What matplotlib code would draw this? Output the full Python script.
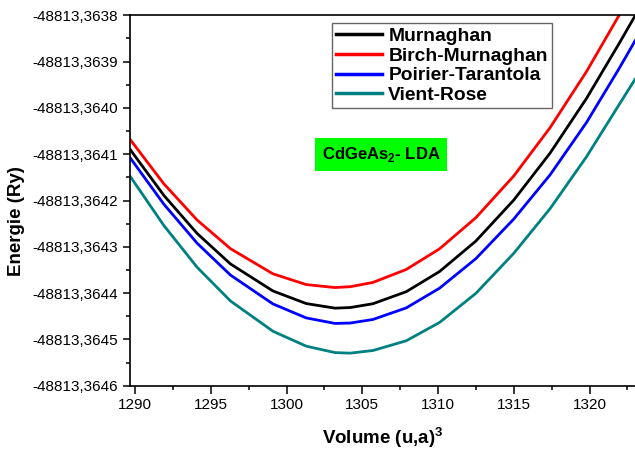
import matplotlib
matplotlib.use("Agg")
import matplotlib.pyplot as plt
from matplotlib.ticker import FixedLocator, FuncFormatter, MultipleLocator

plt.rcParams['font.family'] = ['Liberation Sans', 'DejaVu Sans']
plt.rcParams['mathtext.fontset'] = 'custom'
plt.rcParams['mathtext.rm'] = 'Liberation Sans'
plt.rcParams['mathtext.bf'] = 'Liberation Sans:bold'

# ---- data ----
series_names = ["Murnaghan", "Birch-Murnaghan", "Poirier-Tarantola", "Vient-Rose"]

volume = [1289.7, 1291.9, 1294.1, 1296.3, 1299.1, 1301.3, 1303.2, 1304.2, 1305.7,
          1307.9, 1310.1, 1312.5, 1315.0, 1317.4, 1319.8, 1321.95, 1323.0]

e_murnaghan = [-48813.3640907, -48813.3641888, -48813.3642712, -48813.3643370, -48813.3643953,
               -48813.3644226, -48813.3644325, -48813.3644312, -48813.3644230, -48813.3643970,
               -48813.3643534, -48813.3642875, -48813.3641990, -48813.3640974, -48813.3639795,
               -48813.3638610, -48813.3638013]

e_birch = [-48813.3640691, -48813.3641638, -48813.3642422, -48813.3643040, -48813.3643583,
           -48813.3643816, -48813.3643880, -48813.3643862, -48813.3643770, -48813.3643490,
           -48813.3643044, -48813.3642370, -48813.3641470, -48813.3640424, -48813.3639215,
           -48813.3638000, -48813.3637400]

e_poirier = [-48813.3641087, -48813.3642078, -48813.3642922, -48813.3643610, -48813.3644233,
             -48813.3644536, -48813.3644655, -48813.3644647, -48813.3644570, -48813.3644320,
             -48813.3643894, -48813.3643255, -48813.3642400, -48813.3641444, -48813.3640315,
             -48813.3639150, -48813.3638553]

e_vinet = [-48813.3641487, -48813.3642538, -48813.3643442, -48813.3644170, -48813.3644823,
           -48813.3645146, -48813.3645285, -48813.3645297, -48813.3645240, -48813.3645030,
           -48813.3644634, -48813.3644005, -48813.3643140, -48813.3642174, -48813.3641055,
           -48813.3639930, -48813.3639383]

y_tick_values = [-48813.3646, -48813.3645, -48813.3644, -48813.3643, -48813.3642,
                 -48813.3641, -48813.3640, -48813.3639, -48813.3638]
x_tick_values = [1290, 1295, 1300, 1305, 1310, 1315, 1320]

colors = ["#000000", "#ff0000", "#0000ff", "#008080"]

fig = plt.figure(figsize=(6.35, 4.55), dpi=100)
ax = fig.add_axes([130/635, 1-385.7/455, 1-130/635, (385.7-15.3)/455])

for e, c, n in zip([e_murnaghan, e_birch, e_poirier, e_vinet], colors, series_names):
    ax.plot(volume, e, color=c, lw=2.0, label=n, solid_joinstyle='round')

ax.set_xlim(1289.67, 1323.0)
ax.set_ylim(y_tick_values[0], y_tick_values[-1])

ax.xaxis.set_major_locator(FixedLocator(x_tick_values))
ax.xaxis.set_minor_locator(MultipleLocator(2.5))
ax.yaxis.set_major_locator(FixedLocator(y_tick_values))
ax.yaxis.set_minor_locator(FixedLocator([t + 0.00005 for t in y_tick_values[:-1]]))
ax.yaxis.set_major_formatter(FuncFormatter(lambda v, p: f"{v:.4f}".replace('.', ',')))

ax.tick_params(which='major', direction='out', length=5.4, width=1.1, labelsize=11, colors='black')
ax.tick_params(which='minor', direction='out', length=2.9, width=1.1)
ax.tick_params(top=False, right=False, which='both')

for s in ['left', 'bottom', 'top']:
    ax.spines[s].set_linewidth(1.2)
ax.spines['right'].set_visible(False)

ax.set_xlabel(r'Volume (u,a)$^{\mathbf{3}}$', fontsize=13.5, fontweight='bold')
ax.xaxis.set_label_coords(0.5, -0.141)
ax.xaxis.label.set_va('center')
ax.set_ylabel('Energie (Ry)', fontsize=13.5, fontweight='bold')
ax.yaxis.set_label_coords(-0.224, 0.445)
ax.yaxis.label.set_va('center')

leg = ax.legend(loc='upper left', bbox_to_anchor=((332.3-130)/505, 1-(23.3-15.3)/370.4),
                borderaxespad=0, fancybox=False, frameon=True, handlelength=2.35,
                handletextpad=0.35, labelspacing=0.12, borderpad=0.2,
                prop={'weight': 'bold', 'size': 13.9})
leg.get_frame().set_edgecolor('#404040')
leg.get_frame().set_linewidth(1.0)
for line in leg.get_lines():
    line.set_linewidth(2.5)

ax.text(0.497, 0.624, r'CdGeAs$_{\mathbf{2}}$- LDA', transform=ax.transAxes,
        ha='center', va='center', fontsize=12, fontweight='bold',
        bbox=dict(boxstyle='square,pad=0.42', facecolor='#00ff00', edgecolor='none'))

fig.savefig('out.png', dpi=100)
